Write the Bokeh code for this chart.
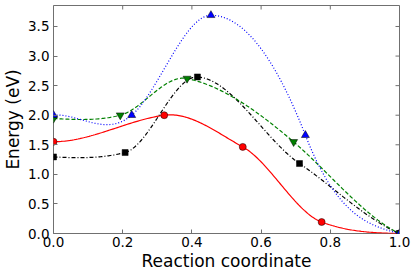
import numpy as np
from bokeh.plotting import figure
from bokeh.models import FixedTicker, PrintfTickFormatter, Range1d
from bokeh.embed import file_html
from bokeh.resources import INLINE

# ---- data ----
x_ticks = [0.0, 0.2, 0.4, 0.6, 0.8, 1.0]
y_ticks = [0.0, 0.5, 1.0, 1.5, 2.0, 2.5, 3.0, 3.5]
x_lim = [0.0, 1.0]
y_lim = [0.0, 3.855]

# image positions along the path, energies (eV) and tangential slopes dE/dx
red_x = [0.0, 0.320, 0.547, 0.775, 1.0]
red_e = [1.552, 2.000, 1.464, 0.194, 0.0]
red_slope = [0.0, 0.8, -3.2, -2.2, -0.1]

black_x = [0.0, 0.207, 0.416, 0.711, 1.0]
black_e = [1.295, 1.369, 2.647, 1.183, 0.0]
black_slope = [-0.3, 1.5, -0.3, -4.0, -2.5]

green_x = [0.0, 0.193, 0.386, 0.694, 1.0]
green_e = [1.944, 2.000, 2.620, 1.549, 0.0]
green_slope = [-0.3, 1.5, -1.2, -5.0, -2.8]

blue_x = [0.0, 0.226, 0.455, 0.728, 1.0]
blue_e = [2.000, 2.000, 3.690, 1.662, 0.0]
blue_slope = [0.5, 5.0, 0.0, -15.0, -1.5]


def hermite_path(xs, es, ms, n=60):
    """Piecewise cubic fit through images using energies and slopes (NEB-style)."""
    out_x, out_y = [], []
    for i in range(len(xs) - 1):
        x0, x1 = xs[i], xs[i + 1]
        h = x1 - x0
        t = np.linspace(0, 1, n)
        h00 = 2 * t**3 - 3 * t**2 + 1
        h10 = t**3 - 2 * t**2 + t
        h01 = -2 * t**3 + 3 * t**2
        h11 = t**3 - t**2
        y = h00 * es[i] + h10 * h * ms[i] + h01 * es[i + 1] + h11 * h * ms[i + 1]
        out_x.extend(list(x0 + t * h))
        out_y.extend(list(y))
    return out_x, out_y


FONT = "DejaVu Sans"
FRAME = "#707070"

p = figure(
    output_backend="svg", toolbar_location=None,
    frame_width=346, frame_height=228,
    min_border_left=51, min_border_right=12, min_border_top=5, min_border_bottom=40,
    x_range=Range1d(*x_lim), y_range=Range1d(*y_lim),
    background_fill_color="white", border_fill_color="white",
)
p.grid.visible = False
p.outline_line_color = FRAME
p.outline_line_width = 1

for ax in (p.xaxis[0], p.yaxis[0]):
    ax.axis_line_color = None
    ax.major_tick_in = 4
    ax.major_tick_out = 0
    ax.major_tick_line_color = FRAME
    ax.minor_tick_line_color = None
    ax.major_label_text_font = FONT
    ax.major_label_text_font_size = "13.5px"
    ax.major_label_text_color = "black"
    ax.axis_label_text_font = FONT
    ax.axis_label_text_font_size = "17px"
    ax.axis_label_text_font_style = "normal"
    ax.axis_label_text_color = "black"
    ax.formatter = PrintfTickFormatter(format="%.1f")

p.xaxis[0].ticker = FixedTicker(ticks=x_ticks)
p.yaxis[0].ticker = FixedTicker(ticks=y_ticks)
p.xaxis[0].axis_label = "Reaction coordinate"
p.yaxis[0].axis_label = "Energy (eV)"
p.xaxis[0].major_label_standoff = 3
p.xaxis[0].axis_label_standoff = 1
p.yaxis[0].major_label_standoff = 4
p.yaxis[0].axis_label_standoff = 2

# inward ticks on the top and right frame edges (clipped half of a dash marker)
p.scatter(x_ticks, [y_lim[1]] * len(x_ticks), marker="dash", size=8, angle=np.pi / 2,
          line_color=FRAME, line_width=1)
p.scatter([x_lim[1]] * len(y_ticks), y_ticks, marker="dash", size=8,
          line_color=FRAME, line_width=1)

series = [
    (red_x, red_e, red_slope, "red", None, "circle", 7),
    (black_x, black_e, black_slope, "black", "4 2 1 2", "square", 6),
    (green_x, green_e, green_slope, "green", "4 2", "inverted_triangle", 8),
    (blue_x, blue_e, blue_slope, "blue", "1 2", "triangle", 8),
]

for xs, es, ms, col, dash, marker, size in series:
    cx, cy = hermite_path(xs, es, ms)
    kw = {} if dash is None else {"line_dash": dash}
    p.line(cx, cy, line_color=col, line_width=1.2, **kw)
    p.scatter(xs, es, marker=marker, size=size, fill_color=col,
              line_color="black", line_width=0.5)

open("out.html", "w").write(file_html(p, INLINE))
